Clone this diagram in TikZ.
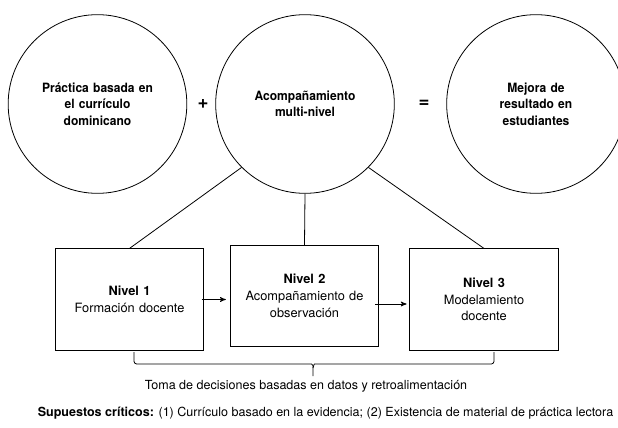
\documentclass[tikz,border=0pt]{standalone}
\usepackage{fontspec}
\setmainfont{TeX Gyre Heros}
\newfontfamily\tightfont[FakeStretch=0.94]{TeX Gyre Heros}
\usepackage{tikz}
\usetikzlibrary{arrows,positioning}

\begin{document}
\begin{tikzpicture}[x=0.75pt,y=-0.75pt,->,>=stealth',semithick,
                    every node/.style={font=\fontsize{9.6}{12.6}\selectfont},
                    goal/.style={circle,draw,minimum size=134pt,inner sep=0pt,
                                 text width=88pt,align=center,
                                 font=\tightfont\bfseries\fontsize{9.6}{12.4}\selectfont},
                    level/.style={rectangle,draw,minimum width=111.5pt,minimum height=76pt,
                                  text width=104pt,align=center},
                    sign/.style={font=\bfseries\fontsize{14}{16}\selectfont}]
  \useasboundingbox (0,0) rectangle (618,428);

  \node[goal]  (P) at (97.5,104) {Práctica basada en\\el currículo\\dominicano};
  \node[goal]  (A) at (305,104)  {Acompañamiento\\multi-nivel};
  \node[goal]  (M) at (536,104)  {Mejora de\\resultado en\\estudiantes};
  \node[sign]  (plus) at (203,104) {+};
  \node[sign]  (eq)   at (424,104) {=};

  \node[level] (N1) at (129.5,299.5) {\textbf{Nivel 1}\\Formación docente};
  \node[level] (N2) at (304.5,296)   {\textbf{Nivel 2}\\Acompañamiento de\\observación};
  \node[level] (N3) at (484,299.5)   {\textbf{Nivel 3}\\Modelamiento\\docente};

  \path[-] (A.south west) edge (N1.north)
           (A.south)      edge (N2.north)
           (A.south east) edge (N3.north);

  \draw[shorten <=-2pt,shorten >=3pt] (N1.east) -- (N1.east -| N2.west);
  \draw[shorten <=-3pt,shorten >=2pt] ([yshift=-6pt]N2.east) -- ([yshift=-6pt]N2.east -| N3.west);

  % brace
  \coordinate (bl) at (134,352);
  \coordinate (br) at (494,352);
  \coordinate (bm) at (313,368);
  \coordinate (bt) at (313,376);
  \draw[-,rounded corners=2pt] (bl) |- (309,364) to[out=0,in=90] (bm) -- (bt);
  \draw[-,rounded corners=2pt] (br) |- (317,364) to[out=180,in=90] (bm);

  \node[font=\fontsize{9.4}{12}\selectfont] (toma) at (306,386)
       {Toma de decisiones basadas en datos y retroalimentación};
  \node[font=\fontsize{9.4}{12}\selectfont] (sup) at (325.5,413)
       {\textbf{Supuestos críticos:} (1) Currículo basado en la evidencia; (2) Existencia de material de práctica lectora};
\end{tikzpicture}
\end{document}
